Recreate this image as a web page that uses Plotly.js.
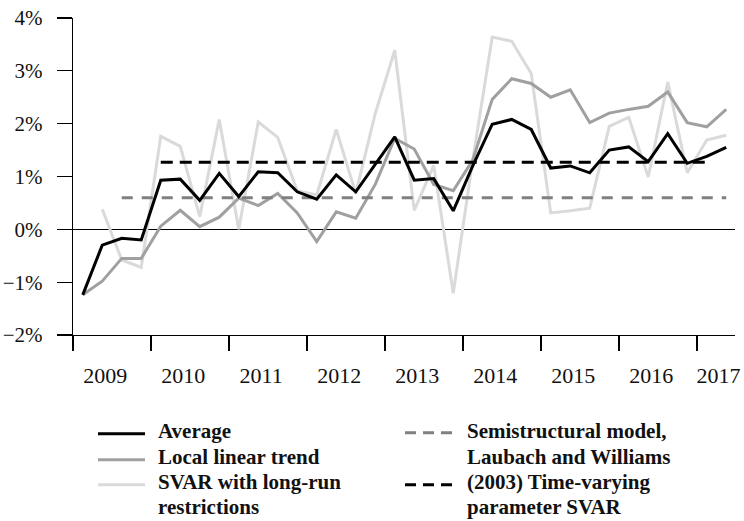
<!DOCTYPE html>
<html>
<head>
<meta charset="utf-8">
<script src="https://cdn.plot.ly/plotly-3.0.1.min.js"></script>
<style>html,body{margin:0;padding:0;background:#fff;}#chart{width:744px;height:521px;}</style>
</head>
<body>
<div id="chart"></div>
<script>
// ---- data (quarterly, 2009Q1 .. 2017Q2), values in percent ----
var quarters = ['2009Q1','2009Q2','2009Q3','2009Q4','2010Q1','2010Q2','2010Q3','2010Q4',
  '2011Q1','2011Q2','2011Q3','2011Q4','2012Q1','2012Q2','2012Q3','2012Q4',
  '2013Q1','2013Q2','2013Q3','2013Q4','2014Q1','2014Q2','2014Q3','2014Q4',
  '2015Q1','2015Q2','2015Q3','2015Q4','2016Q1','2016Q2','2016Q3','2016Q4',
  '2017Q1','2017Q2'];
var average = [-1.24,-0.30,-0.17,-0.20,0.93,0.95,0.55,1.06,0.62,1.09,1.07,0.71,0.57,1.03,0.71,1.24,
  1.75,0.93,0.96,0.35,1.20,1.99,2.08,1.89,1.16,1.20,1.07,1.50,1.56,1.28,1.81,1.25,1.38,1.55];
var localTrend = [-1.24,-0.98,-0.55,-0.55,0.06,0.36,0.05,0.23,0.59,0.45,0.68,0.31,-0.23,0.33,0.21,0.85,
  1.72,1.52,0.85,0.73,1.31,2.46,2.85,2.76,2.50,2.64,2.02,2.20,2.27,2.33,2.60,2.02,1.94,2.27];
var svarLongRun = [null,0.38,-0.58,-0.72,1.76,1.57,0.24,2.08,0.00,2.03,1.74,0.73,0.65,1.89,0.68,2.19,
  3.39,0.36,1.21,-1.21,1.31,3.64,3.56,2.95,0.31,0.35,0.40,1.95,2.12,0.99,2.79,1.07,1.69,1.78];
var semistructural = [null,null,0.60,0.60,0.60,0.60,0.60,0.60,0.60,0.60,0.60,0.60,0.60,0.60,0.60,0.60,
  0.60,0.60,0.60,0.60,0.60,0.60,0.60,0.60,0.60,0.60,0.60,0.60,0.60,0.60,0.60,0.60,0.60,0.60];
var tvpSvar = [null,null,null,null,1.27,1.27,1.27,1.27,1.27,1.27,1.27,1.27,1.27,1.27,1.27,1.27,
  1.27,1.27,1.27,1.27,1.27,1.27,1.27,1.27,1.27,1.27,1.27,1.27,1.27,1.27,1.27,1.27,1.27,null];

var yearLabels = ['2009','2010','2011','2012','2013','2014','2015','2016','2017'];
var yTickVals = [-2,-1,0,1,2,3,4];
var yTickText = ['\u22122%','\u22121%','0%','1%','2%','3%','4%'];
var legendLeft = ['Average','Local linear trend','SVAR with long-run','restrictions'];
var legendRight = ['Semistructural model,','Laubach and Williams','(2003) Time-varying','parameter SVAR'];

// ---- layout helpers ----
var xIdx = quarters.map(function(q,i){return i;});
var yearLabelPos = [1.15,5.15,9.15,13.15,17.15,21.15,25.15,29.15,32.6];
var yearBounds = [-0.5,3.5,7.5,11.5,15.5,19.5,23.5,27.5,31.5];

var L=73, R=735, T=17.5, B=335;
function px(x){return (x-L)/(R-L);}
function py(y){return (B-y)/(B-T);}

var serif = 'Liberation Serif';
var cBlack='#000', cMid='#a0a0a0', cLight='#dadada', cDash='#808080';

var traces = [
  {x:xIdx, y:svarLongRun, mode:'lines', line:{color:cLight,width:3}, name:'SVAR with long-run restrictions'},
  {x:xIdx, y:localTrend, mode:'lines', line:{color:cMid,width:3}, name:'Local linear trend'},
  {x:xIdx, y:semistructural, mode:'lines', line:{color:cDash,width:3,dash:'11px,9px'}, name:'Semistructural model, Laubach and Williams (2003)'},
  {x:xIdx, y:tvpSvar, mode:'lines', line:{color:cBlack,width:3,dash:'12px,7px'}, name:'Time-varying parameter SVAR'},
  {x:xIdx, y:average, mode:'lines', line:{color:cBlack,width:3}, name:'Average'}
];

var rowsY = [431,457,482,507];
var annotations = [];
legendLeft.forEach(function(t,i){
  annotations.push({xref:'paper',yref:'paper',x:px(156),y:py(rowsY[i]),xanchor:'left',yanchor:'middle',
    text:'<b>'+t+'</b>',showarrow:false,font:{family:serif,size:21,color:'#111'}});
});
legendRight.forEach(function(t,i){
  annotations.push({xref:'paper',yref:'paper',x:px(465),y:py(rowsY[i]),xanchor:'left',yanchor:'middle',
    text:'<b>'+t+'</b>',showarrow:false,font:{family:serif,size:21,color:'#111'}});
});

function sample(x0,x1,y,color,dash){
  return {type:'line',xref:'paper',yref:'paper',x0:px(x0),x1:px(x1),y0:py(y),y1:py(y),
    line:{color:color,width:3,dash:dash||'solid'}};
}
var shapes = [
  sample(98,145,434,cBlack),
  sample(98,145,460,cMid),
  sample(98,145,485,cLight),
  sample(405,452,433,cDash,'11px,7px'),
  sample(405,452,485,cBlack,'11px,7px')
];

var layout = {
  width:744, height:521,
  margin:{l:L, r:744-R, t:T, b:521-B, pad:0},
  paper_bgcolor:'#fff', plot_bgcolor:'#fff',
  showlegend:false,
  font:{family:serif, color:'#111'},
  xaxis:{
    range:[-0.5,33.45], showgrid:false, zeroline:false,
    showline:true, linecolor:'#000', linewidth:1.3,
    tickmode:'array', tickvals:yearLabelPos, ticktext:yearLabels,
    ticks:'outside', ticklen:20, tickcolor:'rgba(0,0,0,0)',
    tickfont:{family:serif,size:22,color:'#111'},
    minor:{tickmode:'array', tickvals:yearBounds, ticks:'outside', ticklen:15, tickwidth:1.3, tickcolor:'#000', showgrid:false}
  },
  yaxis:{
    range:[-2,4], showgrid:false,
    zeroline:true, zerolinecolor:'#000', zerolinewidth:1.2,
    showline:true, linecolor:'#000', linewidth:1.3,
    tickmode:'array', tickvals:yTickVals, ticktext:yTickText,
    ticks:'outside', ticklen:15, tickwidth:1.3, tickcolor:'#000',
    tickfont:{family:serif,size:21,color:'#111'}, ticklabelstandoff:10
  },
  annotations:annotations,
  shapes:shapes
};

Plotly.newPlot('chart', traces, layout, {displayModeBar:false, staticPlot:true});
</script>
</body>
</html>
